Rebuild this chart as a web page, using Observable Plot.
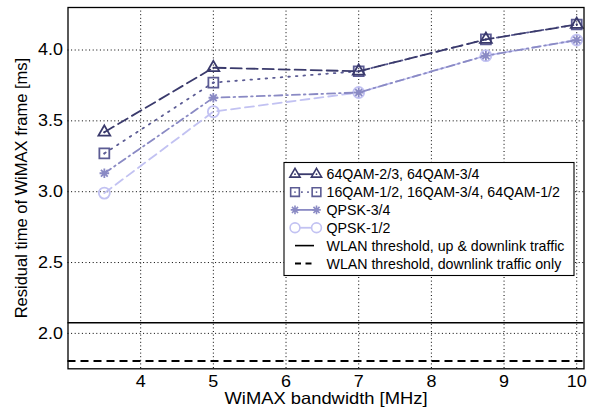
<!DOCTYPE html>
<html>
<head>
<meta charset="utf-8">
<script src="https://cdn.jsdelivr.net/npm/d3@7"></script>
<script src="https://cdn.jsdelivr.net/npm/@observablehq/plot@0.6"></script>
<style>
  html, body { margin: 0; padding: 0; background: #fff; }
  #chart { width: 597px; height: 412px; }
</style>
</head>
<body>
<div id="chart"></div>
<script>
// ---- data ----
const bandwidth = [3.5, 5, 7, 8.75, 10];
const qam64 = [3.42, 3.875, 3.85, 4.075, 4.18];
const qam16 = [3.27, 3.77, 3.85, 4.075, 4.18];
const qpsk34 = [3.13, 3.663, 3.70, 3.96, 4.07];
const qpsk12 = [2.99, 3.565, 3.70, 3.96, 4.07];
const thresholdUpDown = 2.075;
const thresholdDown = 1.805;
const seriesNames = ["64QAM-2/3, 64QAM-3/4", "16QAM-1/2, 16QAM-3/4, 64QAM-1/2", "QPSK-3/4", "QPSK-1/2"];
const thresholdNames = ["WLAN threshold, up & downlink traffic", "WLAN threshold, downlink traffic only"];
const xTicks = [4, 5, 6, 7, 8, 9, 10];
const yTicks = [2.0, 2.5, 3.0, 3.5, 4.0];

const colors = ["#3a3a6c", "#5c5c94", "#8a8ac4", "#c2c2f2"];
const dashes = ["11,5", "1.6,6", "8,4,1.6,4", "9,5"];

const asterisk8 = {
  draw(context, size) {
    const r = Math.sqrt(size / Math.PI);
    for (let i = 0; i < 4; i++) {
      const a = i * Math.PI / 4;
      context.moveTo(-r * Math.cos(a), -r * Math.sin(a));
      context.lineTo(r * Math.cos(a), r * Math.sin(a));
    }
  }
};
const symbols = ["triangle", "square", asterisk8, "circle"];
const radii = [4.4, 5.6, 4.8, 5.5];
const legendRadii = [3.8, 4.9, 4.3, 4.9];

const allSeries = [qam64, qam16, qpsk34, qpsk12];
const tables = allSeries.map((vals, k) => bandwidth.map((b, i) => ({x: b, y: vals[i], s: seriesNames[k]})));

const order = [3, 2, 1, 0];
const marks = [
  Plot.gridX(xTicks, {stroke: "#000", strokeOpacity: 1, strokeDasharray: "1,2.6", strokeWidth: 1}),
  Plot.gridY(yTicks, {stroke: "#000", strokeOpacity: 1, strokeDasharray: "1,2.6", strokeWidth: 1}),
  Plot.ruleY([thresholdUpDown], {stroke: "#000", strokeWidth: 1.6}),
  Plot.ruleY([thresholdDown], {stroke: "#000", strokeWidth: 2, strokeDasharray: "8,5"})
];
for (const k of order) {
  marks.push(Plot.line(tables[k], {x: "x", y: "y", stroke: colors[k], strokeWidth: 1.8, strokeDasharray: dashes[k]}));
  marks.push(Plot.dot(tables[k], {x: "x", y: "y", symbol: () => symbols[k], r: radii[k], stroke: colors[k], strokeWidth: 1.8, fill: "none"}));
  if (k === 1 || k === 0) {
    marks.push(Plot.dot(tables[k], {x: "x", y: "y", r: 1, fill: colors[k]}));
  }
}
marks.push(Plot.frame({stroke: "#000", strokeWidth: 1.3}));

const plot = Plot.plot({
  width: 597,
  height: 412,
  marginLeft: 67.5,
  marginRight: 13.5,
  marginTop: 7,
  marginBottom: 43.7,
  style: {fontFamily: "'Liberation Sans', Arial, sans-serif", fontSize: "16px", background: "#fff", color: "#000"},
  x: {domain: [3, 10.1], ticks: xTicks, tickSize: 0, tickPadding: 7, label: "WiMAX bandwidth [MHz]", labelAnchor: "center", labelArrow: "none", labelOffset: 35},
  y: {domain: [1.75, 4.3], ticks: yTicks, tickFormat: d3.format(".1f"), tickSize: 0, tickPadding: 5, label: "Residual time of WiMAX frame [ms]", labelAnchor: "center", labelArrow: "none", labelOffset: 53},
  marks
});
document.getElementById("chart").appendChild(plot);

const svg = d3.select(plot);
// slightly wide horizontal text, as in the reference
svg.selectAll("[aria-label='x-axis tick label'] text, [aria-label='y-axis tick label'] text").each(function () {
  const w = this.getComputedTextLength();
  this.setAttribute("textLength", (w * 1.12).toFixed(2));
  this.setAttribute("lengthAdjust", "spacingAndGlyphs");
});
svg.selectAll("[aria-label='x-axis label'] text").attr("font-size", "16.5px").each(function () {
  this.setAttribute("textLength", "203");
  this.setAttribute("lengthAdjust", "spacingAndGlyphs");
});
svg.selectAll("[aria-label='y-axis label'] text").attr("font-size", "16.5px");

// ---- legend ----
const lg = svg.append("g").attr("font-family", "'Liberation Sans', Arial, sans-serif").attr("font-size", "14.2px").attr("text-anchor", "start");
const bx = 284, by = 162.5, bw = 290, bh = 113;
lg.append("rect").attr("x", bx).attr("y", by).attr("width", bw).attr("height", bh).attr("fill", "#fff").attr("stroke", "#000").attr("stroke-width", 1.1);
const rowY = i => 174.2 + i * 17.85;
const m1 = 295, m2 = 316.5, tx = 326.5;
for (let k = 0; k < 4; k++) {
  const y = rowY(k);
  lg.append("line").attr("x1", m1).attr("x2", m2).attr("y1", y).attr("y2", y).attr("stroke", colors[k]).attr("stroke-width", 1.8).attr("stroke-dasharray", k === 1 ? "1.6,4.5" : null);
  const type = typeof symbols[k] === "string" ? ({triangle: d3.symbolTriangle, square: d3.symbolSquare, circle: d3.symbolCircle})[symbols[k]] : symbols[k];
  const sym = d3.symbol().type(type).size(legendRadii[k] * legendRadii[k] * Math.PI);
  for (const mx of [m1, m2]) {
    lg.append("path").attr("d", sym()).attr("transform", `translate(${mx},${y})`).attr("fill", "#fff").attr("stroke", colors[k]).attr("stroke-width", 1.6);
    if (k < 2) lg.append("circle").attr("cx", mx).attr("cy", y).attr("r", 0.9).attr("fill", colors[k]);
  }
  lg.append("text").attr("x", tx).attr("y", y).attr("dy", "0.36em").text(seriesNames[k]);
}
for (let j = 0; j < 2; j++) {
  const y = rowY(4 + j);
  lg.append("line").attr("x1", 295).attr("x2", 314).attr("y1", y).attr("y2", y).attr("stroke", "#000").attr("stroke-width", j === 0 ? 1.6 : 2).attr("stroke-dasharray", j === 1 ? "6,4.5" : null);
  lg.append("text").attr("x", tx).attr("y", y).attr("dy", "0.36em").text(thresholdNames[j]);
}
</script>
</body>
</html>
